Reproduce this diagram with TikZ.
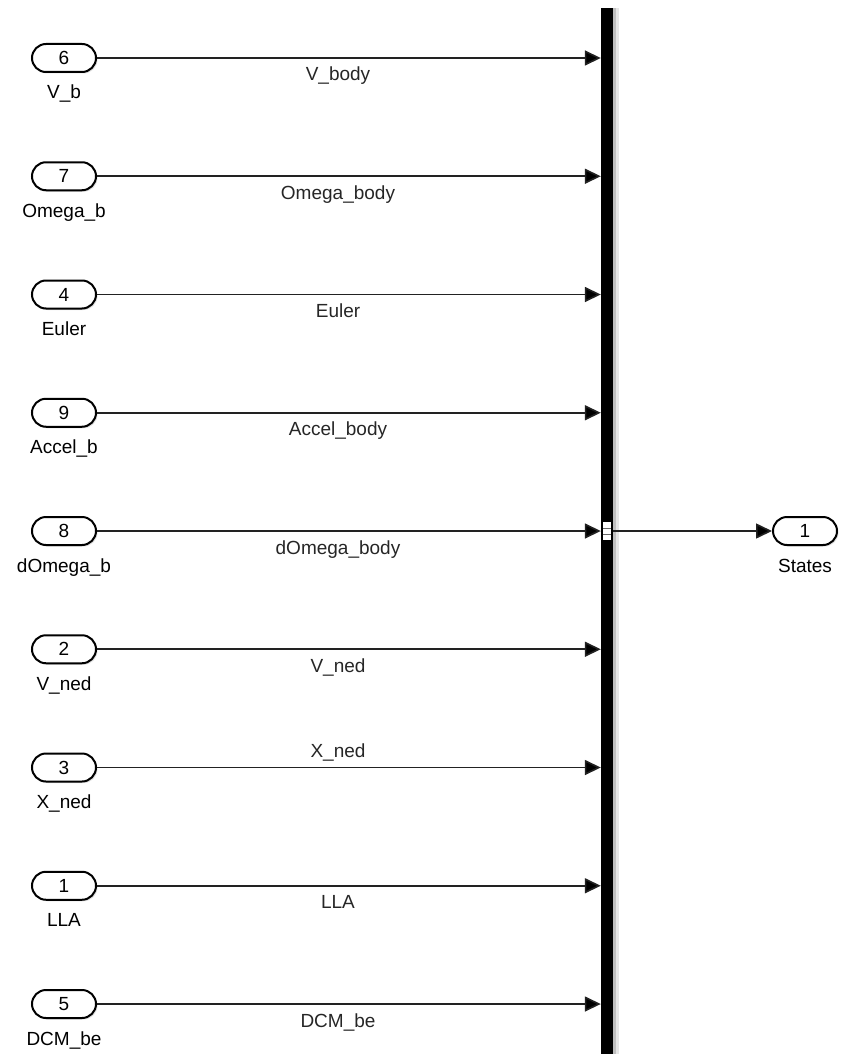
\documentclass[tikz,border=0pt]{standalone}
\usepackage{fontspec}
\setmainfont{Liberation Sans}
\usepackage{tikz}
\usetikzlibrary{calc,positioning,arrows.meta,shadows}
\definecolor{sigline}{HTML}{222222}

\begin{document}
\begin{tikzpicture}[
    x=1pt, y=-1pt,
    font=\fontsize{19}{22}\selectfont,
    port/.style={rectangle, rounded corners=14pt, draw=black, fill=white, line width=2pt,
      minimum width=64pt, minimum height=28pt, inner sep=0pt,
      drop shadow={shadow xshift=1.5pt, shadow yshift=-1.5pt, opacity=0.25}},
    portname/.style={anchor=base, inner sep=0pt},
    siglabel/.style={anchor=base, inner sep=0pt, text=black!85},
    busbar/.style={rectangle, fill=black, minimum width=12pt, minimum height=1060pt, inner sep=0pt},
    sig/.style={-{Triangle[length=16pt,width=15pt,fill=black]}, line width=1.6pt, color=sigline}
  ]
    \useasboundingbox (0,0) rectangle (843,1054);

    % bus creator bar
    \fill[black!10] (613,8) rectangle (619,1060);
    \fill[black!25] (613,8) rectangle (616,1060);
    \node[busbar] (bus) at (607,538) {};

    % inports and their signals
    \foreach \num/\pname/\signame/\off [count=\i from 0] in {
        6/V\_b/V\_body/23,
        7/Omega\_b/Omega\_body/23,
        4/Euler/Euler/23,
        9/Accel\_b/Accel\_body/23,
        8/dOmega\_b/dOmega\_body/23,
        2/V\_ned/V\_ned/23,
        3/X\_ned/X\_ned/-10.5,
        1/LLA/LLA/23,
        5/DCM\_be/DCM\_be/23} {
      \pgfmathsetmacro{\yy}{58+118.25*\i}
      \node[port] (in\i) at (64,\yy) {\num};
      \node[portname] (name\i) at (64,\yy+41) {\pname};
      \draw[sig] (in\i.east) -- (in\i.east -| bus.west);
      \node[siglabel] (lab\i) at (338,\yy+\off) {\signame};
    }

    % output port
    \node[port] (out) at (805,531) {1};
    \node[portname] (outname) at (805,572) {States};
    \draw[sig] (bus.east |- out) -- (out.west);

    % bus output mark
    \fill[white] (603,522) rectangle (611,540);
    \draw[black!60, line width=1pt] (603,528) -- (611,528) (603,534) -- (611,534);
  \end{tikzpicture}
\end{document}
